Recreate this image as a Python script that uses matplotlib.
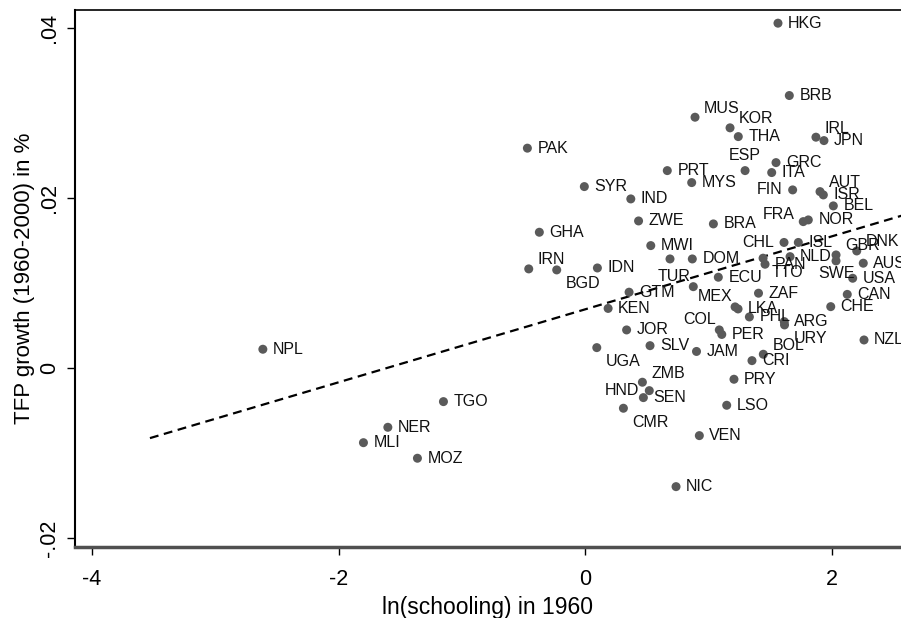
import numpy as np
import matplotlib
matplotlib.use("Agg")
import matplotlib.pyplot as plt

plt.rcParams['font.family'] = ['Liberation Sans', 'DejaVu Sans']

# country codes, ln(schooling) in 1960, TFP growth 1960-2000
countries = ['HKG', 'BRB', 'MUS', 'KOR', 'THA', 'IRL', 'JPN', 'PAK', 'GRC', 'ESP',
             'ITA', 'PRT', 'SYR', 'MYS', 'FIN', 'AUT', 'ISR', 'IND', 'BEL', 'FRA',
             'NOR', 'ZWE', 'BRA', 'GHA', 'MWI', 'CHL', 'ISL', 'DNK', 'GBR', 'NLD',
             'SWE', 'AUS', '', 'DOM', 'PAN', 'TTO', 'IRN', 'BGD', 'IDN', 'ECU',
             'USA', 'TUR', 'GTM', 'ZAF', 'CAN', 'CHE', 'KEN', 'MEX', 'LKA', 'PHL',
             'ARG', 'URY', 'COL', 'PER', 'JOR', 'NZL', 'UGA', 'SLV', 'NPL', 'JAM',
             'BOL', 'CRI', 'ZMB', 'PRY', 'HND', 'SEN', 'TGO', 'LSO', 'CMR', 'NER',
             'VEN', 'MLI', 'MOZ', 'NIC']
schooling = [1.565, 1.657, 0.892, 1.176, 1.243, 1.873, 1.938, -0.468, 1.549, 1.298,
             1.514, 0.667, -0.006, 0.865, 1.684, 1.906, 1.933, 0.371, 2.014, 1.770,
             1.811, 0.434, 1.041, -0.371, 0.533, 1.614, 1.730, 2.204, 2.036, 1.663,
             2.036, 2.257, 0.689, 0.870, 1.460, 1.444, -0.457, -0.230, 0.100, 1.081,
             2.171, 0.878, 0.357, 1.407, 2.127, 1.993, 0.187, 1.217, 1.241, 1.333,
             1.616, 1.618, 1.089, 1.109, 0.337, 2.263, 0.095, 0.527, -2.614, 0.904,
             1.446, 1.354, 0.465, 1.208, 0.521, 0.473, -1.149, 1.149, 0.311, -1.600,
             0.927, -1.798, -1.360, 0.738]
tfp = [0.04055, 0.03204, 0.02949, 0.02824, 0.02721, 0.02714, 0.02674, 0.02585, 0.02415, 0.02321,
       0.02298, 0.02321, 0.02133, 0.02180, 0.02094, 0.02074, 0.02035, 0.01988, 0.01906, 0.01721,
       0.01741, 0.01729, 0.01694, 0.01596, 0.01439, 0.01476, 0.01476, 0.01376, 0.01329, 0.01309,
       0.01259, 0.01232, 0.01282, 0.01282, 0.01220, 0.01291, 0.01165, 0.01153, 0.01176, 0.01067,
       0.01055, 0.00956, 0.00891, 0.00879, 0.00865, 0.00721, 0.00700, 0.00718, 0.00694, 0.00600,
       0.00545, 0.00506, 0.00447, 0.00394, 0.00447, 0.00329, 0.00239, 0.00262, 0.00220, 0.00194,
       0.00161, 0.00086, -0.00168, -0.00133, -0.00267, -0.00349, -0.00396, -0.00439, -0.00474, -0.00698,
       -0.00796, -0.00879, -0.01062, -0.01396]

# linear fit shown as dashed line
fit_slope = 0.00429
fit_intercept = 0.00689
fit_xmin = -3.53
fit_xmax = 2.6

# label clock positions (default 3 o'clock)
label_pos = {'MUS': 2, 'KOR': 2, 'IRL': 2, 'AUT': 2, 'DNK': 2, 'GBR': 2, 'IRN': 2,
             'BOL': 2, 'ZMB': 2, 'ESP': 12, 'FIN': 9, 'CHL': 9, 'HND': 9,
             'FRA': 10, 'TUR': 11, 'MEX': 11, 'COL': 11, 'SWE': 6,
             'TTO': 4, 'BGD': 4, 'UGA': 4, 'CMR': 4, 'URY': 4}
# offsets in pixels (dx, dy down), alignment
offsets = {3: (10, 0, 'left'), 2: (9, -9, 'left'), 4: (9, 14, 'left'),
           9: (-10, 0, 'right'), 10: (-9, -7, 'right'), 11: (-3, -10, 'right'),
           12: (0, -15, 'center'), 6: (0, 13, 'center')}

fig = plt.figure(figsize=(9.01, 6.18), dpi=100)
ax = fig.add_axes([75/901, (618-547)/618, (901-75)/901, (547-10)/618])

ax.scatter(schooling, tfp, s=42, color='#5a5a5a', edgecolors='none', zorder=3)

for name, x, y in zip(countries, schooling, tfp):
    if not name:
        continue
    dx, dy, ha = offsets[label_pos.get(name, 3)]
    ax.annotate(name, (x, y), xytext=(dx*0.72, -dy*0.72), textcoords='offset points',
                ha=ha, va='center', fontsize=11.5, color='#111111', zorder=4)

xf = np.array([fit_xmin, fit_xmax])
ax.plot(xf, fit_intercept + fit_slope*xf, color='black', lw=1.6,
        dashes=(4, 2.5), zorder=2)

ax.set_xlim(-4.138, 2.563)
ax.set_ylim(-0.02106, 0.0421)

ax.set_xticks([-4, -2, 0, 2])
ax.set_xticklabels(['-4', '-2', '0', '2'])
ax.set_yticks([-0.02, 0, 0.02, 0.04])
ax.set_yticklabels(['-.02', '0', '.02', '.04'], rotation=90, va='center')

ax.tick_params(axis='both', direction='out', length=6, width=1, labelsize=15.5, colors='black')
ax.tick_params(axis='x', pad=10)
ax.tick_params(axis='y', pad=5)

ax.spines['right'].set_visible(False)
ax.spines['top'].set_linewidth(1.2)
ax.spines['left'].set_linewidth(1.5)
ax.spines['bottom'].set_linewidth(2.5)
ax.spines['bottom'].set_color('#505050')

ax.set_xlabel('ln(schooling) in 1960', fontsize=16.5, labelpad=4)
ax.set_ylabel('TFP growth (1960-2000) in %', fontsize=16, labelpad=3)

fig.savefig('out.png', dpi=100)
